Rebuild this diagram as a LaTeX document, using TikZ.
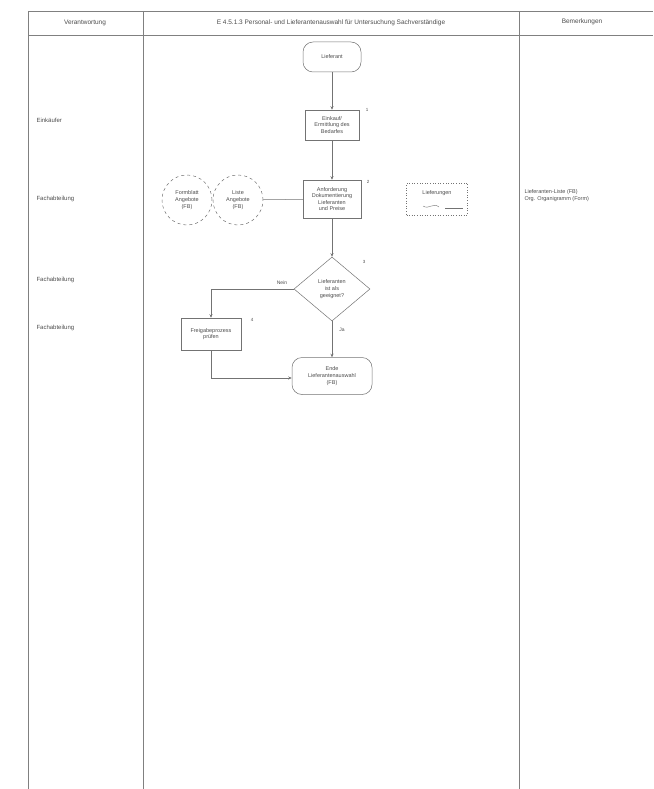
\documentclass[tikz,border=0pt]{standalone}
\usepackage{fontspec}
\setmainfont{Liberation Sans}
\usetikzlibrary{shapes.geometric,arrows.meta}
\definecolor{ln}{gray}{0.45}
\definecolor{tbl}{gray}{0.5}
\definecolor{tx}{gray}{0.3}
\begin{document}
\begin{tikzpicture}[x=1pt,y=-1pt,
  every node/.style={text=tx},
  hdr/.style={font=\fontsize{6.5}{7.5}\selectfont},
  lbl/.style={font=\fontsize{6}{7}\selectfont, anchor=west},
  ntext/.style={font=\fontsize{5.5}{6.6}\selectfont, align=center},
  grid/.style={draw=tbl, line width=0.6pt},
  procbox/.style={ntext, draw=ln, line width=0.5pt, inner sep=1pt},
  terminal/.style={ntext, draw=ln, line width=0.5pt, rounded corners=10pt, inner sep=1pt},
  decision/.style={ntext, draw=ln, line width=0.5pt, diamond, inner sep=0pt, minimum width=76pt, minimum height=64pt},
  circ/.style={ntext, draw=ln, dashed, line width=0.5pt, circle, minimum size=50pt, inner sep=0pt},
  conn/.style={draw=ln, line width=0.5pt},
  arr/.style={conn, -{Stealth[length=3.5pt,width=3pt]}},
  num/.style={font=\fontsize{4.5}{5}\selectfont, text=tx},
  shadow/.style={draw=ln, line width=1.3pt}
]
\useasboundingbox (0,0) rectangle (653,789);

% table frame
\draw[grid] (28,11) -- (653,11);
\draw[grid] (28,35) -- (653,35);
\draw[grid, line width=0.5pt] (28,11) -- (28,789);
\draw[grid, line width=0.9pt] (143,11) -- (143,789);
\draw[grid, line width=0.9pt] (519,11) -- (519,789);

% header
\node[hdr] (h1) at (85,23) {Verantwortung};
\node[hdr] (h2) at (331,23) {E 4.5.1.3 Personal- und Lieferantenauswahl für Untersuchung Sachverständige};
\node[hdr] (h3) at (582,22) {Bemerkungen};

% left column
\node[lbl] (r1) at (33,120) {Einkäufer};
\node[lbl] (r2) at (33,199) {Fachabteilung};
\node[lbl] (r3) at (33,280) {Fachabteilung};
\node[lbl] (r4) at (33,328) {Fachabteilung};

% remarks
\node[lbl, align=left, font=\fontsize{5.5}{7}\selectfont] (rm) at (521,196) {Lieferanten-Liste (FB)\\Org. Organigramm (Form)};

% flowchart
\node[terminal, minimum width=58pt, minimum height=30pt] (start) at (332,57) {Lieferant};
\node[procbox, minimum width=54pt, minimum height=30pt] (b1) at (332,125) {Einkauf/\\Ermittlung des\\Bedarfes};
\node[procbox, minimum width=58pt, minimum height=38pt] (b2) at (332,199) {Anforderung\\Dokumentierung\\Lieferanten\\und Preise};
\node[decision] (d1) at (332,289) {Lieferanten\\ist als\\geeignet?};
\node[procbox, minimum width=60pt, minimum height=32pt] (b3) at (211,334) {Freigabeprozess\\prüfen};
\node[terminal, minimum width=80pt, minimum height=37pt] (end) at (332,376) {Ende\\Lieferantenauswahl\\(FB)};

% shadows on process boxes
\draw[shadow] ([xshift=1pt]b1.south west) -- ([xshift=0.5pt]b1.south east);
\draw[shadow] ([xshift=1pt]b2.south west) -- ([xshift=0.5pt]b2.south east);
\draw[shadow] ([yshift=-1pt]b2.north east) -- (b2.south east);
\draw[shadow] ([xshift=1pt]b3.south west) -- ([xshift=0.5pt]b3.south east);

% circles
\node[circ] (c1) at (187,200) {Formblatt\\Angebote\\(FB)};
\node[circ] (c2) at (238,200) {Liste\\Angebote\\(FB)};

% document
\node[ntext, draw=ln, dotted, line width=0.6pt, minimum width=61pt, minimum height=32pt, text depth=12pt] (doc) at (437,199) {Lieferungen};
\draw[ln, line width=0.4pt] ([xshift=-14pt,yshift=-7pt]doc.center) .. controls ([xshift=-8pt,yshift=-11pt]doc.center) and ([xshift=-4pt,yshift=-3pt]doc.center) .. ([xshift=2pt,yshift=-8pt]doc.center);
\draw[ln, line width=0.4pt] ([xshift=8pt,yshift=-9pt]doc.center) -- ([xshift=26pt,yshift=-9pt]doc.center);

% numbers
\node[num] (n1) at (367,110) {1};
\node[num] (n2) at (368,182) {2};
\node[num] (n3) at (364,262) {3};
\node[num] (n4) at (252,320) {4};

% connectors
\draw[arr] (start) -- (b1);
\draw[arr] (b1) -- (b2);
\draw[arr] (b2) -- (d1);
\draw[conn] (c2) -- (b2);
\coordinate (bl) at (211,289);
\draw[arr] (d1.west) -- (bl) -- (b3.north);
\node[num, font=\fontsize{5}{6}\selectfont] (nein) at (282,283) {Nein};
\draw[arr] (d1.south) -- (end.north);
\node[num, font=\fontsize{5}{6}\selectfont] (ja) at (342,330) {Ja};
\coordinate (bl2) at (211,378);
\draw[arr] (b3.south) -- (bl2) -- (end.west |- bl2);

\end{tikzpicture}
\end{document}
